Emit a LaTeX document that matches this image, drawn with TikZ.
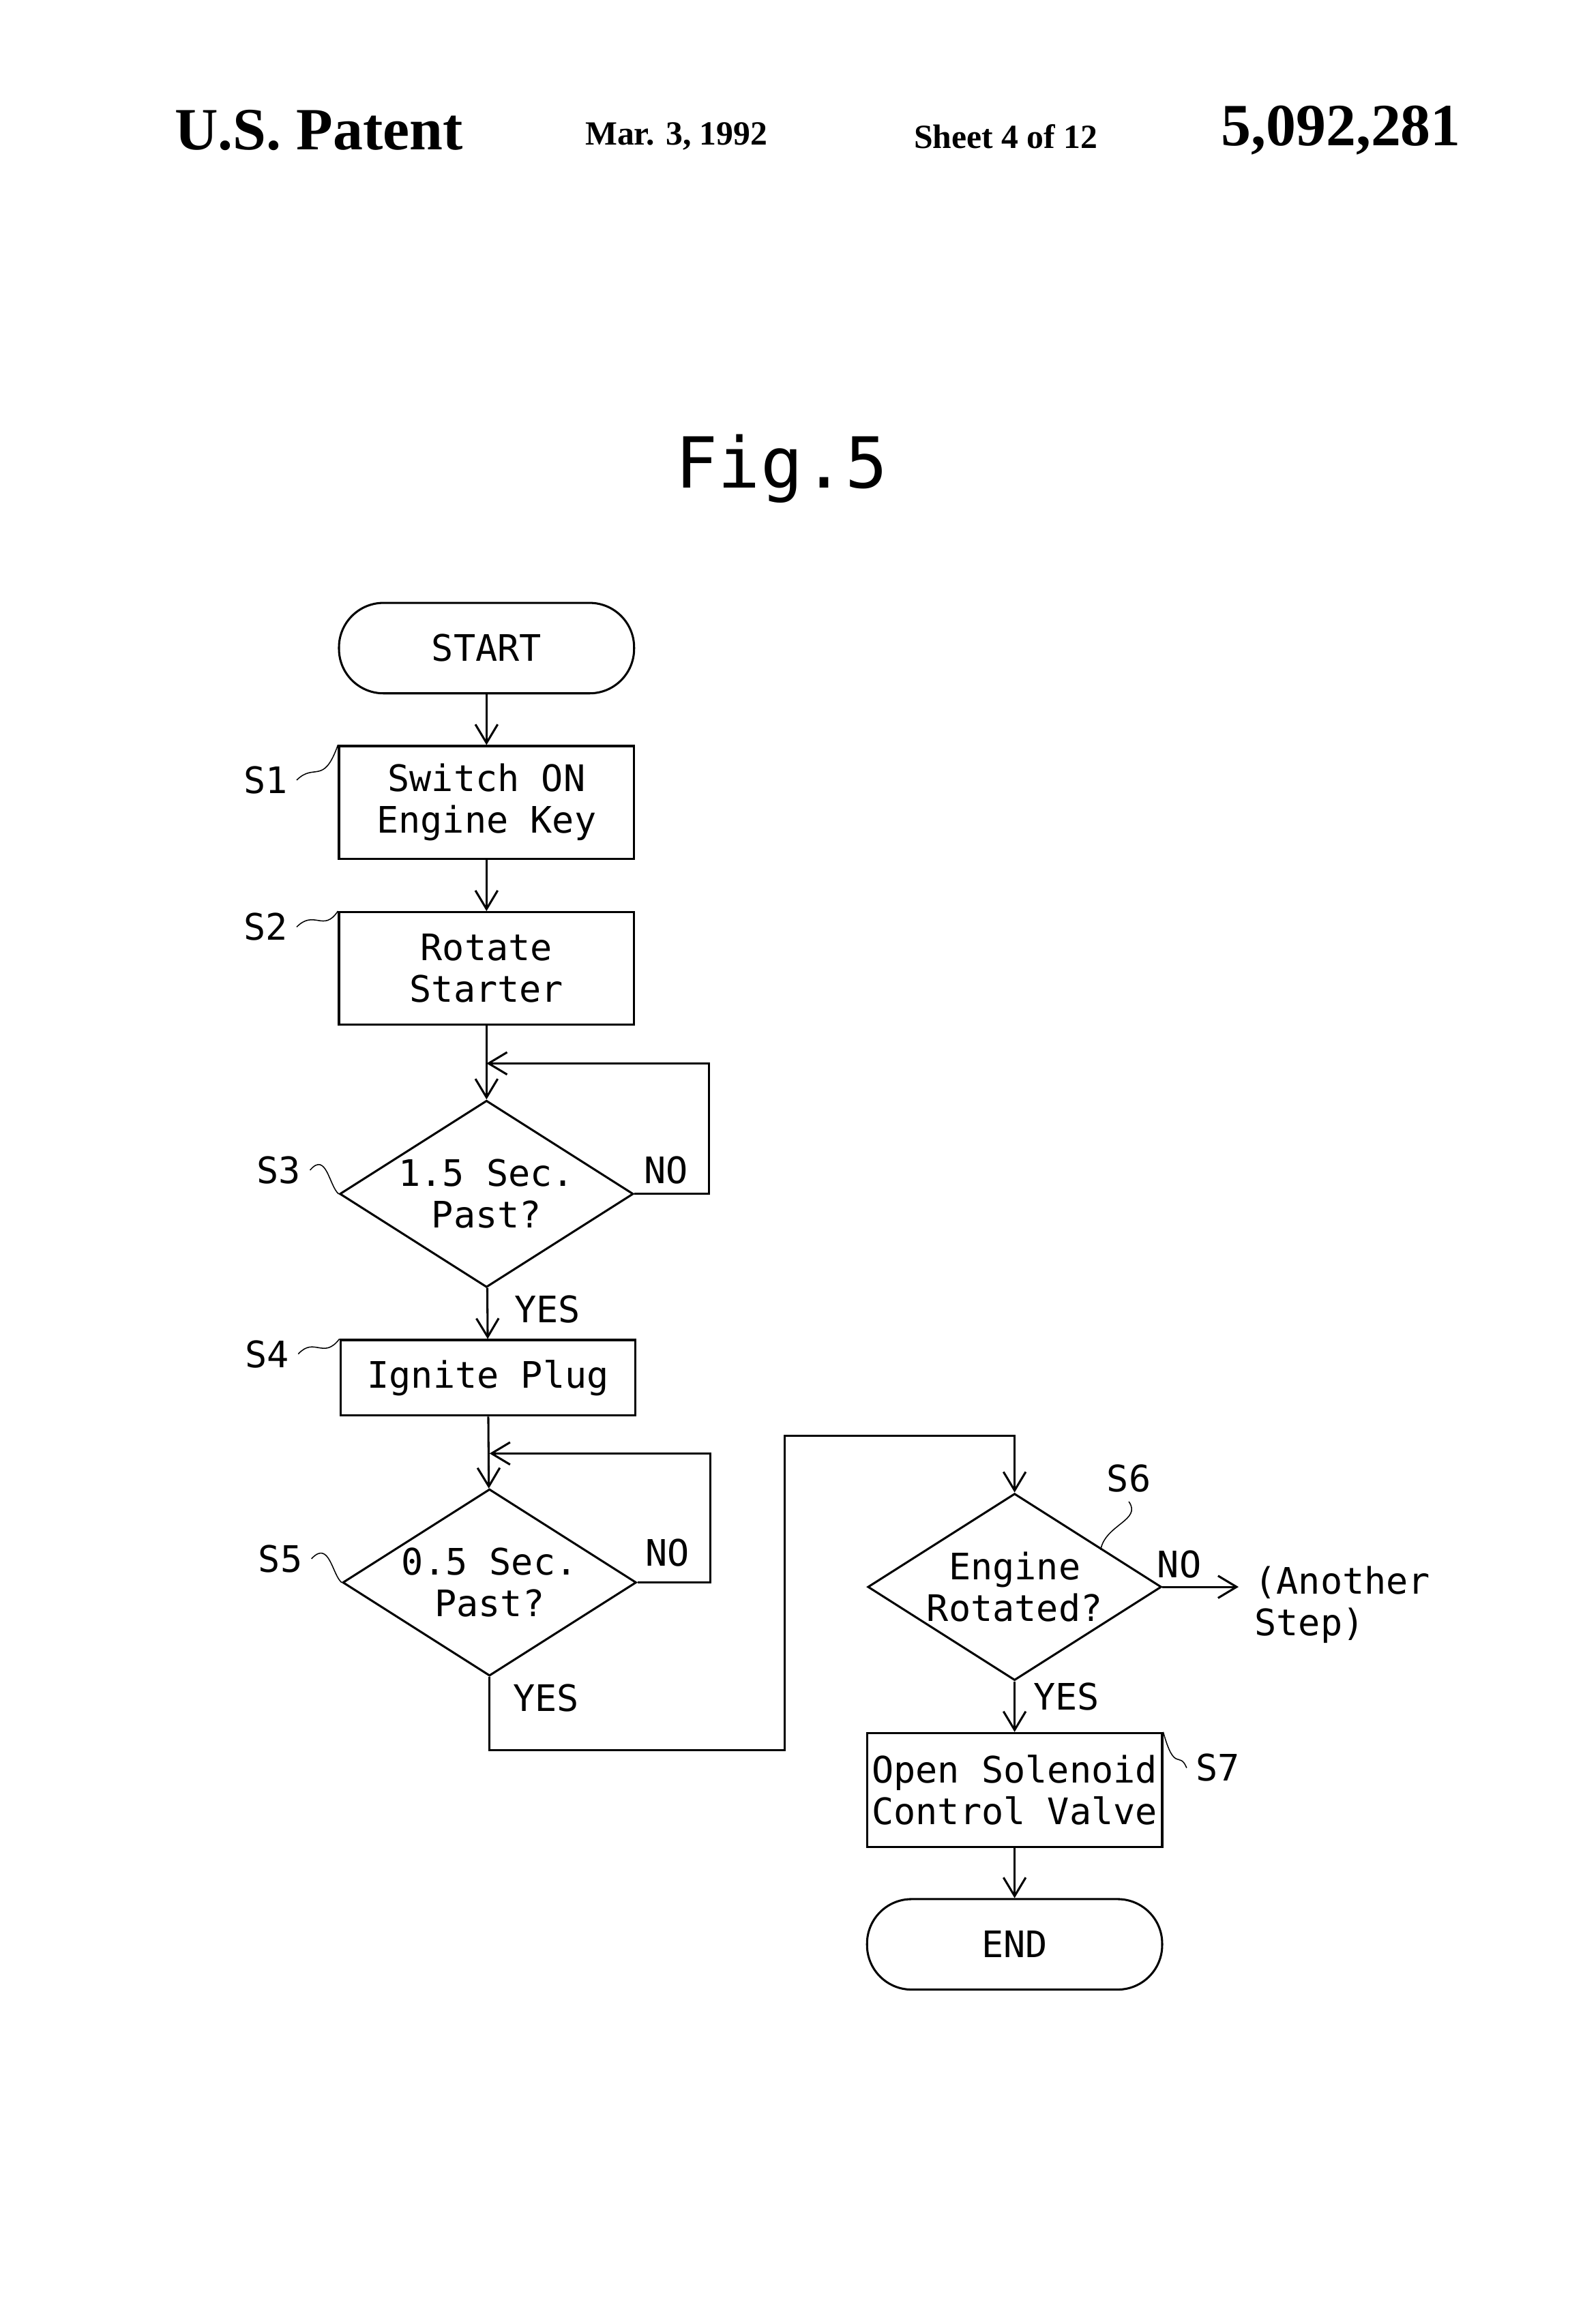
\documentclass[tikz,border=0pt]{standalone}
\usepackage{fontspec}
\setmainfont{Liberation Serif}
\newfontfamily\plotfont{DejaVu Sans Mono}
\usetikzlibrary{shapes.geometric,arrows.meta}

\tikzset{
  box/.style={draw,thick,minimum width=3.98cm,font=\plotfont\fontsize{14}{16}\selectfont,align=center,inner sep=1pt},
  term/.style={box,rounded corners=0.6cm,minimum height=1.22cm},
  test/.style={draw,thick,diamond,aspect=1.57,minimum width=3.96cm,minimum height=2.52cm,inner sep=0pt,font=\plotfont\fontsize{14}{16}\selectfont,align=center},
  tag/.style={font=\plotfont\fontsize{14}{16}\selectfont},
  flow/.style={thick,-{Straight Barb[length=2.5mm,width=3mm]}},
  lead/.style={thin}
}

\begin{document}
\begin{tikzpicture}[x=0.02cm,y=-0.02cm]
\useasboundingbox (0,0) rectangle (1067,1567);

	%Header
	\node (hd_1) at (215,88) {\fontsize{23}{28}\selectfont\bfseries U.S. Patent};
	\node (hd_2) at (456,92) {\fontsize{13}{16}\selectfont\bfseries Mar. 3, 1992};
	\node (hd_3) at (678,92) {\fontsize{13}{16}\selectfont\bfseries Sheet 4 of 12};
	\node (hd_4) at (904,88) {\fontsize{23}{28}\selectfont\bfseries 5,092,281};
	\node (fig) at (527,316) {\plotfont\fontsize{27}{32}\selectfont Fig.5};

	%Left column
	\node[term] (start) at (328,437) {START};
	\node[box,minimum height=1.52cm] (s_1) at (328,541) {Switch ON\\Engine Key};
	\node[box,minimum height=1.52cm] (s_2) at (328,653) {Rotate\\Starter};
	\node[test] (s_3) at (328,805) {1.5 Sec.\\Past?};
	\node[box,minimum height=1.02cm] (s_4) at (329,929) {Ignite Plug};
	\node[test] (s_5) at (330,1067) {0.5 Sec.\\Past?};

	%Right column
	\node[test] (s_6) at (684,1070) {Engine\\Rotated?};
	\node[box,minimum height=1.54cm] (s_7) at (684,1207) {Open Solenoid\\Control Valve};
	\node[term] (end) at (684,1311) {END};
	\node[tag,align=left] (other) at (905,1082) {(Another\\ Step)};

	%Step tags
	\node[tag] (t_1) at (179,526) {S1};
	\node[tag] (t_2) at (179,625) {S2};
	\node[tag] (t_3) at (188,789) {S3};
	\node[tag] (t_4) at (180,913) {S4};
	\node[tag] (t_5) at (189,1051) {S5};
	\node[tag] (t_6) at (761,997) {S6};
	\node[tag] (t_7) at (821,1192) {S7};

	%Branch labels
	\node[tag] (n_3) at (449,789) {NO};
	\node[tag] (y_3) at (369,883) {YES};
	\node[tag] (n_5) at (450,1047) {NO};
	\node[tag] (y_5) at (368,1145) {YES};
	\node[tag] (n_6) at (795,1055) {NO};
	\node[tag] (y_6) at (719,1144) {YES};

	%Bends
	\coordinate (j_3) at (328,717);
	\coordinate (j_5) at (330,980);
	\coordinate (r_3) at (478,805);
	\coordinate (r_5) at (479,1067);
	\coordinate (k_1) at (330,1180);
	\coordinate (k_2) at (529,1180);
	\coordinate (k_3) at (529,968);
	\coordinate (k_4) at (684,968);
	\coordinate (out) at (835,1070);

	%Flow
	\draw[flow] (start) -- (s_1);
	\draw[flow] (s_1) -- (s_2);
	\draw[flow] (s_2) -- (s_3);
	\draw[flow] (s_3.east) -- (r_3) |- (j_3);
	\draw[flow] (s_3) -- (s_4);
	\draw[flow] (s_4) -- (s_5);
	\draw[flow] (s_5.east) -- (r_5) |- (j_5);
	\draw[flow] (s_5.south) -- (k_1) -- (k_2) -- (k_3) -- (k_4) -- (s_6.north);
	\draw[flow] (s_6.east) -- (out);
	\draw[flow] (s_6) -- (s_7);
	\draw[flow] (s_7) -- (end);

	%Leads
	\draw[lead] (t_1.east) .. controls (212,514) and (218,530) .. (s_1.north west);
	\draw[lead] (t_2.east) .. controls (212,613) and (218,629) .. (s_2.north west);
	\draw[lead] (t_3.east) .. controls (220,776) and (222,800) .. (s_3.west);
	\draw[lead] (t_4.east) .. controls (212,901) and (218,917) .. (s_4.north west);
	\draw[lead] (t_5.east) .. controls (222,1038) and (224,1062) .. (s_5.west);
	\draw[lead] (t_6.south) .. controls (770,1025) and (745,1028) .. (742,1045);
	\draw[lead] (t_7.west) .. controls (795,1180) and (792,1196) .. (s_7.north east);
\end{tikzpicture}
\end{document}
